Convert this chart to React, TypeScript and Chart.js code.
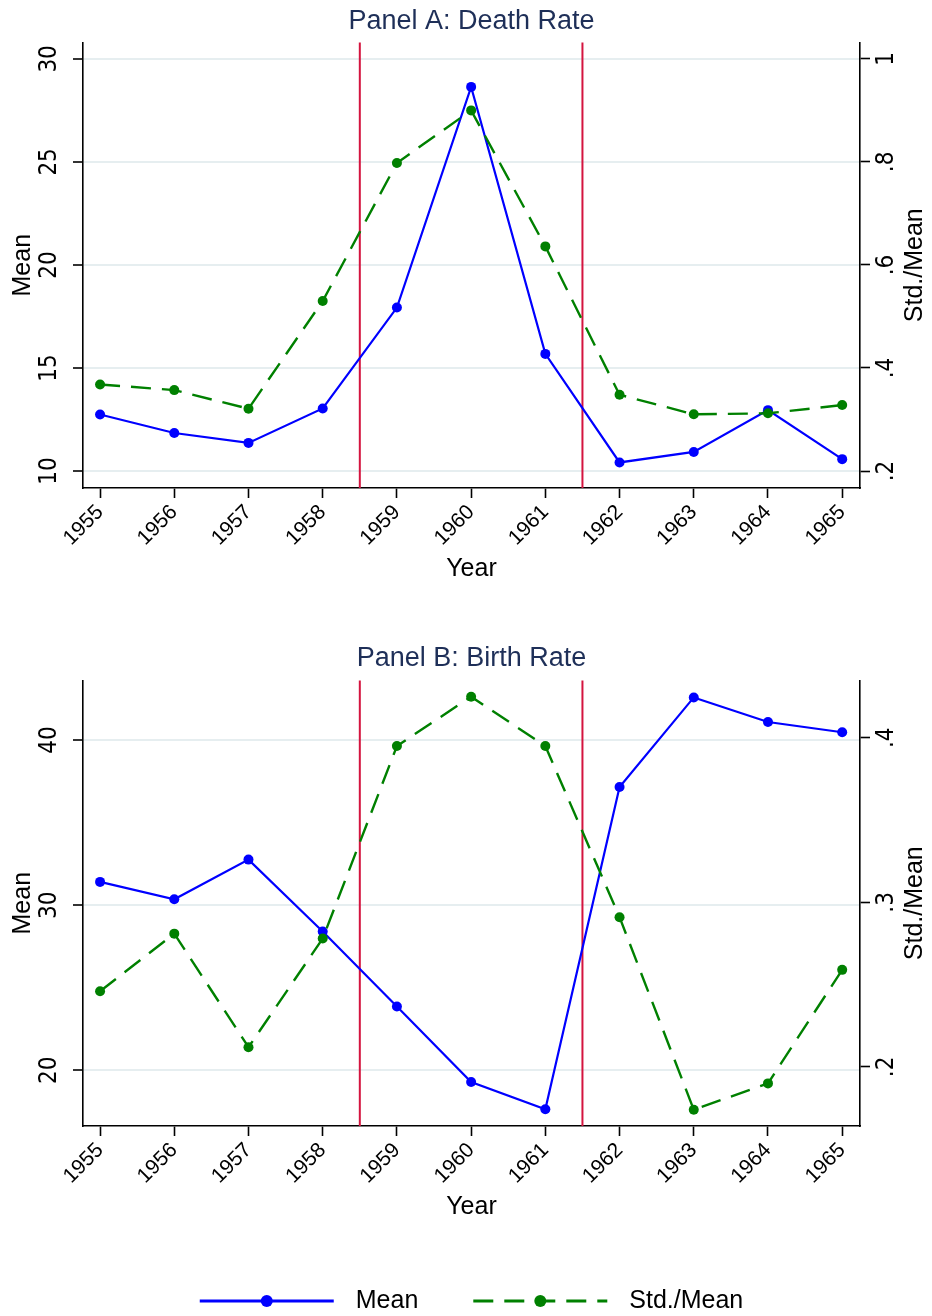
import { useEffect, useRef } from "react";
import { Chart, registerables } from "chart.js";

Chart.register(...registerables);

// ---- data ----
const years = [1955, 1956, 1957, 1958, 1959, 1960, 1961, 1962, 1963, 1964, 1965];
const cutoffYears = [1958.5, 1961.5];

const deathMean = [12.74, 11.84, 11.36, 13.03, 17.93, 28.64, 15.68, 10.41, 10.92, 12.95, 10.57];
const deathCv = [0.368, 0.357, 0.321, 0.53, 0.798, 0.9, 0.636, 0.348, 0.31, 0.312, 0.328];
const birthMean = [31.41, 30.36, 32.76, 28.41, 23.87, 19.29, 17.64, 37.16, 42.58, 41.09, 40.47];
const birthCv = [0.246, 0.281, 0.212, 0.278, 0.395, 0.425, 0.395, 0.291, 0.174, 0.19, 0.259];

const deathMeanTicks = [10, 15, 20, 25, 30];
const deathCvTicks = [0.2, 0.4, 0.6, 0.8, 1];
const birthMeanTicks = [20, 30, 40];
const birthCvTicks = [0.2, 0.3, 0.4];

const yearRange = [1954.77, 1965.24];
const deathMeanRange = [9.17, 30.8];
const deathCvRange = [0.167, 1.032];
const birthMeanRange = [16.63, 43.61];
const birthCvRange = [0.1641, 0.4349];

// ---- styles ----
const FONT = "'Liberation Sans', Arial, Helvetica, sans-serif";
const NARROW = "'Liberation Sans Narrow', 'DejaVu Sans Condensed', sans-serif";
const BLUE = "#0000ff";
const GREEN = "#008000";
const CUTOFF = "#d4143f";
const GRID = "#e6eef0";
const TITLE_COLOR = "#1e2f58";
const AXIS_W = 1.6;

const xTickFont = { family: FONT, size: 21 };
const yTickFont = { family: NARROW, size: 24 };
const axisFont = { family: FONT, size: 25 };

const dropZero = (v: number | string) => String(v).replace(/^0\./, ".");

// red vertical lines + right-hand axis title (reads bottom to top)
const panelDecor = (rightTitle: string) => ({
  id: "panelDecor",
  beforeDatasetsDraw(chart: any) {
    const { ctx, chartArea, scales } = chart;
    ctx.save();
    ctx.strokeStyle = CUTOFF;
    ctx.lineWidth = 2;
    cutoffYears.forEach((v) => {
      const x = scales.x.getPixelForValue(v);
      ctx.beginPath();
      ctx.moveTo(x, chartArea.top);
      ctx.lineTo(x, chartArea.bottom);
      ctx.stroke();
    });
    ctx.restore();
  },
  afterDraw(chart: any) {
    const { ctx, chartArea } = chart;
    ctx.save();
    ctx.translate(chart.width - 17, (chartArea.top + chartArea.bottom) / 2);
    ctx.rotate(-Math.PI / 2);
    ctx.font = `25px ${FONT}`;
    ctx.fillStyle = "#000";
    ctx.textAlign = "center";
    ctx.textBaseline = "middle";
    ctx.fillText(rightTitle, 0, 0);
    ctx.restore();
  },
});

// shared legend under the bottom panel: line sample with marker in the middle
const bottomLegend = {
  id: "bottomLegend",
  afterDraw(chart: any) {
    const { ctx, chartArea } = chart;
    const sampleW = 134;
    const textGap = 22;
    const itemGap = 55;
    const y = chart.height - 15;
    ctx.save();
    ctx.font = `25px ${FONT}`;
    const items = chart.data.datasets.map((ds: any) => ({ ds, w: ctx.measureText(ds.label).width }));
    const total =
      items.reduce((s: number, it: any) => s + sampleW + textGap + it.w, 0) + itemGap * (items.length - 1);
    let x = (chartArea.left + chartArea.right) / 2 - total / 2;
    items.forEach(({ ds, w }: any) => {
      ctx.strokeStyle = ds.borderColor;
      ctx.lineWidth = 3;
      ctx.setLineDash(ds.borderDash || []);
      ctx.beginPath();
      ctx.moveTo(x, y);
      ctx.lineTo(x + sampleW, y);
      ctx.stroke();
      ctx.setLineDash([]);
      ctx.fillStyle = ds.borderColor;
      ctx.beginPath();
      ctx.arc(x + sampleW / 2, y, 6, 0, Math.PI * 2);
      ctx.fill();
      ctx.fillStyle = "#000";
      ctx.textAlign = "left";
      ctx.textBaseline = "middle";
      ctx.fillText(ds.label, x + sampleW + textGap, y);
      x += sampleW + textGap + w + itemGap;
    });
    ctx.restore();
  },
};

function buildConfig(
  title: string,
  mean: number[],
  cv: number[],
  meanTicks: number[],
  cvTicks: number[],
  meanRange: number[],
  cvRange: number[],
  titlePad: { top: number; bottom: number },
  bottomPad: number,
  withLegend: boolean
): any {
  return {
    type: "line",
    data: {
      datasets: [
        {
          label: "Mean",
          data: years.map((yr, i) => ({ x: yr, y: mean[i] })),
          yAxisID: "y",
          borderColor: BLUE,
          backgroundColor: BLUE,
          borderWidth: 2.2,
          pointRadius: 5,
          pointBorderWidth: 0,
          pointBackgroundColor: BLUE,
          tension: 0,
          order: 1,
        },
        {
          label: "Std./Mean",
          data: years.map((yr, i) => ({ x: yr, y: cv[i] })),
          yAxisID: "y1",
          borderColor: GREEN,
          backgroundColor: GREEN,
          borderWidth: 2.4,
          borderDash: [20, 11],
          pointRadius: 5,
          pointBorderWidth: 0,
          pointBackgroundColor: GREEN,
          tension: 0,
          order: 0,
        },
      ],
    },
    options: {
      responsive: true,
      maintainAspectRatio: false,
      animation: false,
      events: [],
      layout: { padding: { left: 0, right: 0, top: 0, bottom: bottomPad } },
      scales: {
        x: {
          type: "linear",
          min: yearRange[0],
          max: yearRange[1],
          afterBuildTicks: (a: any) => {
            a.ticks = years.map((v) => ({ value: v }));
          },
          afterFit: (s: any) => {
            s.height = 132;
          },
          ticks: {
            autoSkip: false,
            minRotation: 45,
            maxRotation: 45,
            padding: 2,
            color: "#000",
            font: xTickFont,
            callback: (v: number) => String(v),
          },
          grid: { drawOnChartArea: false, drawTicks: true, tickLength: 10, tickColor: "#000", tickWidth: AXIS_W },
          border: { display: true, color: "#000", width: AXIS_W },
          title: { display: true, text: "Year", color: "#000", font: axisFont, padding: { top: 0, bottom: 36 } },
        },
        y: {
          type: "linear",
          position: "left",
          min: meanRange[0],
          max: meanRange[1],
          afterBuildTicks: (a: any) => {
            a.ticks = meanTicks.map((v) => ({ value: v }));
          },
          afterFit: (s: any) => {
            s.width = 83;
          },
          ticks: {
            minRotation: 90,
            maxRotation: 90,
            crossAlign: "center",
            padding: 10,
            color: "#000",
            font: yTickFont,
            callback: (v: number) => String(v),
          },
          grid: { color: GRID, lineWidth: 2, drawTicks: true, tickLength: 10, tickColor: "#000", tickWidth: AXIS_W },
          border: { display: true, color: "#000", width: AXIS_W },
          title: { display: true, text: "Mean", color: "#000", font: axisFont, padding: { top: 8, bottom: 0 } },
        },
        y1: {
          type: "linear",
          position: "right",
          min: cvRange[0],
          max: cvRange[1],
          afterBuildTicks: (a: any) => {
            a.ticks = cvTicks.map((v) => ({ value: v }));
          },
          afterFit: (s: any) => {
            s.width = 72;
          },
          ticks: {
            minRotation: 90,
            maxRotation: 90,
            crossAlign: "center",
            padding: 6,
            color: "#000",
            font: yTickFont,
            callback: (v: number) => dropZero(v),
          },
          grid: { drawOnChartArea: false, drawTicks: true, tickLength: 10, tickColor: "#000", tickWidth: AXIS_W },
          border: { display: true, color: "#000", width: AXIS_W },
          title: { display: false },
        },
      },
      plugins: {
        title: {
          display: true,
          text: title,
          fullSize: false,
          color: TITLE_COLOR,
          font: { family: FONT, size: 27, weight: "normal" },
          padding: titlePad,
        },
        legend: { display: false },
        tooltip: { enabled: false },
      },
    },
    plugins: withLegend ? [panelDecor("Std./Mean"), bottomLegend] : [panelDecor("Std./Mean")],
  };
}

export default function App() {
  const refA = useRef<HTMLCanvasElement | null>(null);
  const refB = useRef<HTMLCanvasElement | null>(null);

  useEffect(() => {
    if (!refA.current || !refB.current) return;
    const chartA = new Chart(
      refA.current,
      buildConfig(
        "Panel A: Death Rate",
        deathMean,
        deathCv,
        deathMeanTicks,
        deathCvTicks,
        deathMeanRange,
        deathCvRange,
        { top: 5, bottom: 5 },
        0,
        false
      )
    );
    const chartB = new Chart(
      refB.current,
      buildConfig(
        "Panel B: Birth Rate",
        birthMean,
        birthCv,
        birthMeanTicks,
        birthCvTicks,
        birthMeanRange,
        birthCvRange,
        { top: 22, bottom: 6 },
        58,
        true
      )
    );
    return () => {
      chartA.destroy();
      chartB.destroy();
    };
  }, []);

  return (
    <div style={{ position: "absolute", left: 0, top: 0, width: 932, height: 1316, background: "#fff" }}>
      <div style={{ position: "absolute", left: 0, top: 0, width: 932, height: 620 }}>
        <canvas ref={refA} />
      </div>
      <div style={{ position: "absolute", left: 0, top: 620, width: 932, height: 696 }}>
        <canvas ref={refB} />
      </div>
    </div>
  );
}
